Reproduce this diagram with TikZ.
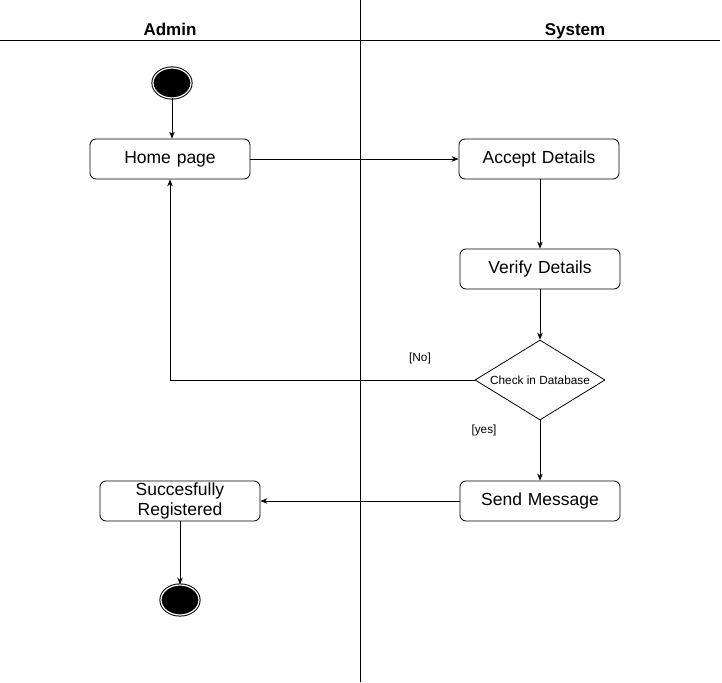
\documentclass[tikz,border=0pt]{standalone}
\usepackage{fontspec}
\setmainfont{Liberation Sans}
\usetikzlibrary{shapes.geometric, positioning, arrows.meta}
\tikzset{
  x=1pt, y=-1pt,
  action/.style={draw, line width=0.8pt, rounded corners=6pt, minimum width=160pt, minimum height=40pt,
    inner sep=1pt, font=\fontsize{17.5}{20.5}\selectfont, text width=150pt, align=center},
  decision/.style={draw, line width=0.8pt, diamond, aspect=1.625, minimum width=130pt, minimum height=80pt,
    inner sep=0pt, font=\fontsize{11.8}{13}\selectfont},
  terminal/.style={draw=black, ellipse, fill=black, double=white, double distance=1.2pt,
    line width=1pt, minimum width=38pt, minimum height=30pt},
  flow/.style={-{Stealth[length=7pt, width=5.5pt]}, line width=0.8pt},
  guard/.style={font=\fontsize{11.8}{13}\selectfont},
  lane/.style={anchor=base, font=\bfseries\fontsize{17}{20}\selectfont},
}

\begin{document}
\begin{tikzpicture}
        \useasboundingbox (0,0) rectangle (722,682);

        % swimlanes
        \draw[line width=0.8pt] (360,0) -- (360,682);
        \draw[line width=0.8pt] (0,40) -- (720,40);
        \node[lane] (admin) at (170,35.5) {Admin};
        \node[lane] (system) at (575,35.5) {System};

        % nodes
        \node[terminal] (start) at (172,83) {};
        \node[action] (home) at (170,159) {Home page};
        \node[action] (accept) at (539,159) {Accept Details};
        \node[action] (verify) at (540,269) {Verify Details};
        \node[decision] (check) at (540,380) {Check in Database};
        \node[action] (send) at (540,501) {Send Message};
        \node[action] (done) at (180,501) {Succesfully\\Registered};
        \node[terminal] (stop) at (180,600) {};

        % guards
        \node[guard] (no) at (420,358) {[No]};
        \node[guard] (yes) at (484,430) {[yes]};

        % transitions
        \draw[flow] (start) -- (start |- home.north);
        \draw[flow] (home) -- (accept);
        \draw[flow] (accept.south -| verify) -- (verify);
        \draw[flow] (verify) -- (check);
        \draw[flow] (check.west) -| (home.south);
        \draw[flow] (check) -- (send);
        \draw[flow] (send) -- (done);
        \draw[flow] (done) -- (stop);

      \end{tikzpicture}
\end{document}
